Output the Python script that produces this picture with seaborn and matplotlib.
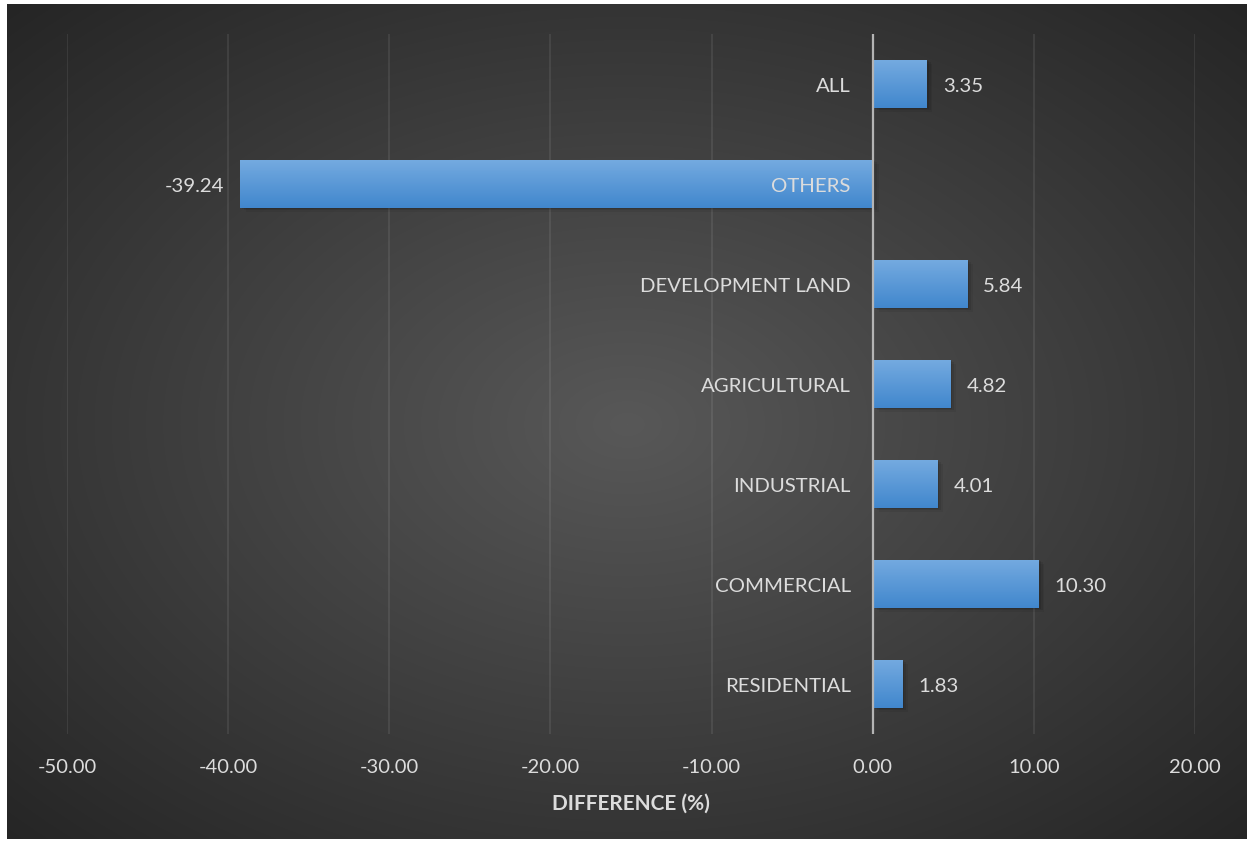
import numpy as np
import pandas as pd
import matplotlib
matplotlib.use("Agg")
import matplotlib.pyplot as plt
import seaborn as sns
from matplotlib.ticker import FormatStrFormatter
from matplotlib.patches import Rectangle

categories = ["ALL", "OTHERS", "DEVELOPMENT LAND", "AGRICULTURAL", "INDUSTRIAL", "COMMERCIAL", "RESIDENTIAL"]
values = [3.35, -39.24, 5.84, 4.82, 4.01, 10.30, 1.83]
x_ticks = [-50, -40, -30, -20, -10, 0, 10, 20]
x_label = "DIFFERENCE (%)"

df = pd.DataFrame({"category": categories, "value": values})

sns.set_theme(style="white")
plt.rcParams["font.family"] = ["Lato", "DejaVu Sans"]

W, H = 1254, 845
fig = plt.figure(figsize=(W / 100, H / 100), dpi=100)
fig.patch.set_facecolor("white")

# background panel with radial gradient
bg = fig.add_axes([7 / W, 5 / H, 1240 / W, 835 / H])
bg.set_axis_off()
yy, xx = np.mgrid[0:835, 0:1240]
cx, cy = 620, 420
r = np.sqrt(((xx - cx) / 620.0) ** 2 + ((yy - cy) / 420.0) ** 2) / np.sqrt(2)
r = np.clip(r, 0, 1)
c_in, c_out = 0x58 / 255, 0x25 / 255
g = c_in + (c_out - c_in) * r
img = np.dstack([g, g, g])
bg.imshow(img, aspect="auto", extent=[0, 1, 0, 1], interpolation="bilinear")
bg.set_xlim(0, 1)
bg.set_ylim(0, 1)

ax = fig.add_axes([67 / W, 110 / H, 1128 / W, 700 / H])
ax.patch.set_alpha(0)

sns.barplot(data=df, x="value", y="category", orient="h", color="#5499dc",
            width=0.48, ax=ax, saturation=1, zorder=3, edgecolor="none", linewidth=0)

ax.set_xlim(-50, 20)
ax.set_ylim(6.5, -0.5)
ax.set_xticks(x_ticks)
ax.xaxis.set_major_formatter(FormatStrFormatter("%.2f"))
for s in ax.spines.values():
    s.set_visible(False)
ax.tick_params(axis="x", length=0, pad=17, labelsize=14.5, labelcolor="#dcdcdc")
ax.set_yticks([])
ax.set_ylabel("")
ax.set_xlabel(x_label, fontsize=15, fontweight="bold", color="#dcdcdc", labelpad=13)

for t in x_ticks:
    if t != 0:
        ax.axvline(t, color="white", alpha=0.1, lw=1.1, zorder=1)
ax.axvline(0, color="#b4b4b4", lw=1.6, zorder=5)

# gradient fill + shadow on bars
grad = np.linspace(0, 1, 64).reshape(-1, 1)
top = np.array([0x74, 0xaa, 0xe0]) / 255
bot = np.array([0x41, 0x87, 0xcd]) / 255
gimg = top + (bot - top) * grad[..., None]
gimg = np.repeat(gimg, 2, axis=1)
for p in ax.patches:
    x0, y0 = p.get_x(), p.get_y()
    w, h = p.get_width(), p.get_height()
    for k, a in enumerate([0.10, 0.08, 0.06]):
        off = 0.012 * (k + 1)
        sh = Rectangle((x0 + 0.12 * (k + 1), y0 + off), w, h, color="black", alpha=a, lw=0, zorder=2)
        ax.add_patch(sh)
    im = ax.imshow(gimg, extent=[x0, x0 + w, y0 + h, y0], aspect="auto", zorder=4, interpolation="bilinear")
    im.set_clip_path(p)
ax.set_xlim(-50, 20)
ax.set_ylim(6.5, -0.5)

# labels
for i, (c, v) in enumerate(zip(categories, values)):
    ax.annotate(c, (0, i), xytext=(-22, -2), textcoords="offset pixels",
                ha="right", va="center", fontsize=14.7, color="#dcdcdc", zorder=6)
    if v >= 0:
        ax.annotate(f"{v:.2f}", (v, i), xytext=(16, -2), textcoords="offset pixels",
                    ha="left", va="center", fontsize=14.7, color="#dcdcdc", zorder=6)
    else:
        ax.annotate(f"{v:.2f}", (v, i), xytext=(-16, -2), textcoords="offset pixels",
                    ha="right", va="center", fontsize=14.7, color="#dcdcdc", zorder=6)

fig.savefig("out.png", dpi=100, facecolor="white")
